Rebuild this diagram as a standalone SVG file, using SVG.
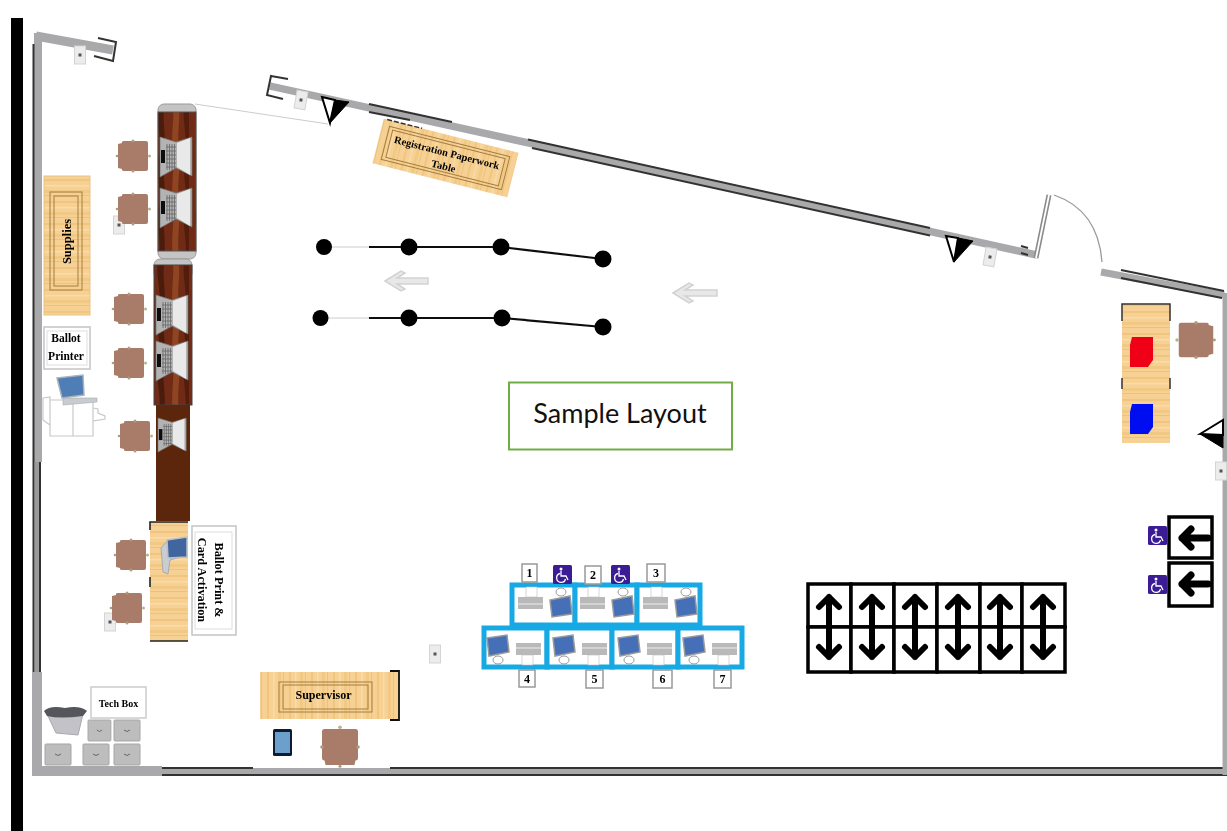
<svg xmlns="http://www.w3.org/2000/svg" xmlns:xlink="http://www.w3.org/1999/xlink" width="1227" height="831" viewBox="0 0 1227 831">
<style>
.lbl{font-family:"Liberation Serif",serif;font-weight:bold;fill:#000;text-anchor:middle}
.num{font-family:"Liberation Serif",serif;font-weight:bold;font-size:12px;fill:#000;text-anchor:middle}
.wall{fill:none;stroke:#a9a9ab;stroke-linecap:butt}
.dk{fill:none;stroke:#333;stroke-width:2}
.inner{fill:none;stroke:#a67e3e;stroke-width:1}
.lblbox{fill:#fff;stroke:#c4c4c4;stroke-width:1.500}
.numbox{fill:#fff;stroke:#999;stroke-width:1.500}
.post{fill:#000}
.rope{stroke:#111;stroke-width:2.200;fill:none}
.thin{stroke:#ccc;stroke-width:1;fill:none}
.cell{fill:#fff;stroke:#000;stroke-width:3.500}
.arr{fill:none;stroke:#000;stroke-width:6;stroke-linecap:round;stroke-linejoin:round}
.garr{fill:#e8e8e8;stroke:#d2d2d2;stroke-width:1.500}
.booth{fill:#fff;stroke:#19a9e3;stroke-width:5}
.box{fill:#bdbdbd;stroke:#a5a5a5;stroke-width:1}
</style>
<defs>
<filter id="soft" x="-2%" y="-2%" width="104%" height="104%"><feGaussianBlur stdDeviation="0.6"/></filter>
<pattern id="woodH" width="46" height="22" patternUnits="userSpaceOnUse">
<rect width="46" height="22" fill="#f6d193"/>
<rect y="3" width="46" height="2" fill="#f0c581"/><rect y="9" width="46" height="1.500" fill="#f9dcab"/><rect y="14" width="46" height="3" fill="#f1c884"/><rect y="19" width="46" height="1" fill="#edc27d"/>
</pattern>
<pattern id="woodV" width="22" height="46" patternUnits="userSpaceOnUse">
<rect width="22" height="46" fill="#f6d193"/>
<rect x="3" width="2" height="46" fill="#f0c581"/><rect x="9" width="1.500" height="46" fill="#f9dcab"/><rect x="14" width="3" height="46" fill="#f1c884"/><rect x="19" width="1" height="46" fill="#edc27d"/>
</pattern>
<pattern id="mahog" width="38" height="52" patternUnits="userSpaceOnUse">
<rect width="38" height="52" fill="#6f2c12"/>
<path d="M6 0C3 15 10 30 7 52H12C15 30 9 15 13 0Z" fill="#4a1a08"/>
<path d="M20 0C24 14 17 32 22 52H28C23 32 30 14 26 0Z" fill="#8f4420"/>
<path d="M32 0C30 20 36 34 33 52H37V0Z" fill="#521f0b"/>
</pattern>
<g id="chair">
<path d="M-15-12L-11-13V-14Q-11-15-9-15H13Q15-15 15-13V13Q15 15 13 15H-9Q-11 15-11 14V13L-15 12Z" fill="#a87c67"/>
<circle cx="0" cy="-15" r="1.500" fill="#b09a80"/><circle cx="0" cy="15" r="1.500" fill="#b09a80"/><circle cx="16.500" cy="0" r="1.500" fill="#bfb08a"/><circle cx="-16" cy="0" r="1.300" fill="#b09a80"/>
</g>
<g id="outlet"><rect x="-5.500" y="-9" width="11" height="18" fill="#ececec" stroke="#d4d4d4"/><rect x="-1.500" y="-1.500" width="3" height="3" fill="#555"/></g>
<g id="station">
<polygon points="0,0 16,5 32,0 32,39 16,31 0,40" fill="#b3b3b3" stroke="#777" stroke-width=".7"/>
<polygon points="17,6 30,1 30,38 17,30" fill="#e9e9e9"/>
<path d="M7 7V33M9.500 7V33M12 7V33M14.500 7V33M6 10H16M6 14H16M6 18H16M6 22H16M6 26H16M6 30H16" stroke="#666" stroke-width=".8" fill="none"/>
<rect x="1" y="13" width="4" height="13" fill="#111"/>
</g>
<g id="booth">
<polygon points="3,11 23,8 25,25 5,29" fill="#4570b8" stroke="#9a9a9a" stroke-width="1.500"/>
<ellipse cx="14" cy="33" rx="5" ry="4" fill="#fff" stroke="#999"/>
<rect x="32" y="16" width="25" height="12" fill="#b9b9b9"/><path d="M32 21H57" stroke="#eee"/>
<rect x="38" y="28" width="11" height="10" fill="#fff" stroke="#bbb" stroke-width=".6"/>
</g>
<g id="ada"><rect width="19" height="19" rx="1.500" fill="#3a1c94"/><circle cx="8" cy="4" r="1.500" fill="#fff"/><path d="M8 6V11H13L15 15M7 8.500A4.500 4.500 0 1 0 12.500 14" fill="none" stroke="#fff" stroke-width="1.300"/></g>
<g id="updown"><path class="arr" d="M0-30V30M-10-20L0-30L10-20M-10 20L0 30L10 20"/></g>
<g id="gbox"><rect width="26" height="21" rx="1" class="box"/><path d="M10 10q3 3 6 0" stroke="#666" fill="none"/></g>
</defs>

<rect width="1227" height="831" fill="#fff"/>
<rect x="11" y="18" width="12" height="813" fill="#000"/>

<g filter="url(#soft)">
<g id="walls">
<path class="wall" stroke-width="8" d="M38 462V33"/>
<path class="wall" stroke-width="9" d="M36 36L113 50"/>
<path class="wall" stroke-width="5" d="M37 462V672" style="stroke:#9a9a9a"/>
<path class="dk" d="M33.500 44V770M40 462V672"/>
<path class="wall" stroke-width="10" d="M37 672V771H162"/>
<path class="wall" stroke-width="7" d="M162 771.500H1227"/>
<path class="dk" d="M162 768H253M390 768H1224M162 775H1227"/>
<path class="wall" stroke-width="7.500" d="M270 86L1037 255"/>
<path class="dk" d="M369 104L452 122M369 112L410 120M528 139.500L930 228M532 148L930 235.500M1021 246L1028 248M1021 253L1028 255"/>
<path class="wall" stroke-width="7" d="M1101 272L1224 295"/>
<path class="dk" d="M1121 270L1224 291M1121 278L1222 298"/>
<path class="wall" stroke-width="5" d="M1225 293V775"/>
<path d="M1036 258L1049 195" fill="none" stroke="#8a8a8a" stroke-width="5"/>
<path d="M1036 258L1049 195" fill="none" stroke="#fff" stroke-width="1.800"/>
<path d="M1054 195Q1098 210 1102 262" fill="none" stroke="#999" stroke-width="1.300"/>
<path d="M98 38L116 42L113 61L94 56" fill="none" stroke="#333" stroke-width="2"/>
<path d="M288 79L271 76L267 95L283 99" fill="none" stroke="#333" stroke-width="2"/>
<path class="thin" d="M195 104L328 124"/>
</g>

<g id="triangles">
<g id="door-sensor-1"><polygon points="322,97 335,100 330,123" fill="#fff" stroke="#000" stroke-width="2"/><polygon points="335,100 349,102 330,123" fill="#000" stroke="#000"/></g>
<g id="door-sensor-2"><polygon points="946,236 958,238 954,262" fill="#fff" stroke="#000" stroke-width="2"/><polygon points="958,238 973,241 954,262" fill="#000" stroke="#000"/></g>
<g id="door-sensor-3"><polygon points="1200,434 1223,420 1223,435" fill="#fff" stroke="#000" stroke-width="2"/><polygon points="1200,434 1223,435 1223,448" fill="#000" stroke="#000"/></g>
</g>

<g id="outlets">
<use xlink:href="#outlet" href="#outlet" transform="translate(80,55)"/>
<use xlink:href="#outlet" href="#outlet" transform="translate(301,100) rotate(10)"/>
<use xlink:href="#outlet" href="#outlet" transform="translate(119,225)"/>
<use xlink:href="#outlet" href="#outlet" transform="translate(990,257) rotate(10)"/>
<use xlink:href="#outlet" href="#outlet" transform="translate(110,622)"/>
<use xlink:href="#outlet" href="#outlet" transform="translate(435,654)"/>
<use xlink:href="#outlet" href="#outlet" transform="translate(1221,471)"/>
</g>

<g id="supplies">
<rect x="44" y="176" width="46" height="139" fill="url(#woodH)" stroke="#e8c488"/>
<rect x="50" y="192" width="32" height="98" class="inner"/><rect x="54" y="196" width="24" height="90" class="inner"/>
<text class="lbl" font-size="12.500" transform="translate(71,241.500) rotate(-90)">Supplies</text>
</g>

<g id="ballot-printer-label">
<rect x="44" y="327" width="46" height="42" class="lblbox"/><rect x="47" y="331" width="40" height="34" fill="none" stroke="#ddd"/>
<text class="lbl" font-size="11.500" x="66" y="342">Ballot</text><text class="lbl" font-size="11.500" x="66" y="360">Printer</text>
</g>

<g id="ballot-printer">
<path d="M50 400H93V436H50ZM73 400V436M43 398L50 397V425L43 420ZM93 408L98 409V413L105 416V419L93 421Z" fill="#fff" stroke="#c8c8c8" stroke-width="1.200"/>
<polygon points="63,398 97,398 97,402 63,405" fill="#c8ccd0" stroke="#aaa" stroke-width=".6"/>
<polygon points="57,378 83,375 84,395 62,398" fill="#4f7db5" stroke="#aab2ba" stroke-width="1.500"/>
</g>

<g id="chairs">
<use xlink:href="#chair" href="#chair" transform="translate(133,156)"/>
<use xlink:href="#chair" href="#chair" transform="translate(133,209)"/>
<use xlink:href="#chair" href="#chair" transform="translate(129,309)"/>
<use xlink:href="#chair" href="#chair" transform="translate(129,363)"/>
<use xlink:href="#chair" href="#chair" transform="translate(135,436)"/>
<use xlink:href="#chair" href="#chair" transform="translate(131,555)"/>
<use xlink:href="#chair" href="#chair" transform="translate(127,608)"/>
<use xlink:href="#chair" href="#chair" transform="translate(1196,340) scale(-1.150,1.150)"/>
<use xlink:href="#chair" href="#chair" transform="translate(340,747) rotate(-90) scale(1.200)"/>
</g>

<g id="counter-1">
<rect x="158" y="104" width="38" height="155" rx="6" fill="#c4c4c4" stroke="#999"/>
<rect x="158" y="112" width="38" height="139" fill="url(#mahog)" stroke="#555"/>
<use xlink:href="#station" href="#station" transform="translate(160,137)"/>
<use xlink:href="#station" href="#station" transform="translate(160,188)"/>
</g>

<g id="counter-2">
<rect x="154" y="259" width="38" height="20" rx="6" fill="#c4c4c4" stroke="#999"/>
<rect x="154" y="265" width="38" height="140" fill="url(#mahog)" stroke="#444"/>
<use xlink:href="#station" href="#station" transform="translate(156,295)"/>
<use xlink:href="#station" href="#station" transform="translate(156,341)"/>
</g>

<g id="counter-3">
<rect x="156" y="405" width="34" height="116" fill="#5c2608"/>
<use xlink:href="#station" href="#station" transform="translate(158,418) scale(.88,.85)"/>
</g>

<g id="activation-desk">
<rect x="150" y="522" width="38" height="119" fill="url(#woodH)"/>
<path d="M150 530V522H188M150 577V587M150 641H188" fill="none" stroke="#222" stroke-width="1.600"/>
<path d="M168 540L161 548L163 572L168 574L170 560L180 557Z" fill="#c9cdd2" stroke="#aaa"/>
<polygon points="167,540 187,537 187,557 168,558" fill="#3f659f" stroke="#b8c0c8" stroke-width="1.500"/>
</g>

<g id="activation-label">
<rect x="192" y="526" width="44" height="109" class="lblbox"/><rect x="195" y="532" width="37" height="97" fill="none" stroke="#ddd"/>
<text class="lbl" font-size="12.300" transform="translate(215,580) rotate(90)">Ballot Print &amp;</text>
<text class="lbl" font-size="12.300" transform="translate(198,580) rotate(90)">Card Activation</text>
</g>

<g id="tech-box">
<rect x="91" y="687" width="55" height="31" fill="#fff" stroke="#ccc" stroke-width="1.500"/>
<text class="lbl" font-size="10" x="118.500" y="707">Tech Box</text>
<polygon points="47,714 83,714 78,735 56,733" fill="#c2c2c8" stroke="#a8a8ae"/>
<path d="M44 711Q50 705 65 708Q80 705 87 711L83 716Q60 719 47 716Z" fill="#55555b"/>
<use xlink:href="#gbox" href="#gbox" transform="translate(88,720) scale(.88,1)"/>
<use xlink:href="#gbox" href="#gbox" transform="translate(114,720)"/>
<use xlink:href="#gbox" href="#gbox" transform="translate(45,744)"/>
<use xlink:href="#gbox" href="#gbox" transform="translate(83,744)"/>
<use xlink:href="#gbox" href="#gbox" transform="translate(114,744)"/>
</g>

<g id="supervisor">
<rect x="260" y="672" width="139" height="47" fill="url(#woodV)"/>
<path d="M390 671H399V720H390" fill="none" stroke="#111" stroke-width="1.800"/>
<rect x="279" y="682" width="93" height="30" class="inner"/><rect x="283" y="685" width="85" height="24" class="inner"/>
<text class="lbl" font-size="12" x="323.500" y="699">Supervisor</text>
</g>

<g id="tablet">
<rect x="273" y="729" width="19" height="27" rx="1.500" fill="#111d33"/><rect x="275" y="732" width="15" height="21" fill="#6c9fcb"/>
</g>

<g id="registration-table" transform="translate(445.500,158) rotate(14.200)">
<rect x="-69.500" y="-23" width="139" height="46" fill="url(#woodV)"/>
<rect x="-62" y="-17" width="124" height="34" class="inner"/><rect x="-58" y="-14" width="116" height="28" class="inner"/>
<path d="M-66-23H-30" stroke="#333" stroke-width="1.500" stroke-dasharray="5 2"/>
<text class="lbl" font-size="10.500" y="-2">Registration Paperwork</text>
<text class="lbl" font-size="10.500" y="12">Table</text>
</g>

<g id="queue-1">
<path class="thin" d="M332 247H369"/><path class="rope" d="M369 247H501L603 259"/>
<circle class="post" cx="324" cy="247" r="8"/><circle class="post" cx="409" cy="247" r="8.500"/><circle class="post" cx="501" cy="247" r="8.500"/><circle class="post" cx="603" cy="259" r="8.500"/>
</g>
<g id="queue-2">
<path class="thin" d="M328 318H369"/><path class="rope" d="M369 318H502L603 327"/>
<circle class="post" cx="320.500" cy="318" r="8"/><circle class="post" cx="409" cy="318" r="8.500"/><circle class="post" cx="502" cy="318" r="8.500"/><circle class="post" cx="603" cy="327" r="8.500"/>
</g>

<g id="flow-arrows">
<polygon class="garr" points="385,281 401,271 405,273 397,278 428,278 428,284 397,284 405,289 401,291"/>
<polygon class="garr" points="673,293 689,283 693,285 685,290 717,290 717,296 685,296 693,301 689,303"/>
</g>

<g id="booths">
<g id="booth-frame-top">
<rect x="512" y="585" width="63" height="40" class="booth"/><rect x="575" y="585" width="62" height="40" class="booth"/><rect x="637" y="585" width="63" height="40" class="booth"/>
<use xlink:href="#booth" href="#booth" transform="translate(575,625) rotate(180)"/>
<use xlink:href="#booth" href="#booth" transform="translate(637,625) rotate(180)"/>
<use xlink:href="#booth" href="#booth" transform="translate(700,625) rotate(180)"/>
</g>
<g id="booth-frame-bottom">
<rect x="484" y="628" width="63" height="39" class="booth"/><rect x="547" y="628" width="65" height="39" class="booth"/><rect x="612" y="628" width="66" height="39" class="booth"/><rect x="678" y="628" width="64" height="39" class="booth"/>
<use xlink:href="#booth" href="#booth" transform="translate(484,627)"/>
<use xlink:href="#booth" href="#booth" transform="translate(550,627)"/>
<use xlink:href="#booth" href="#booth" transform="translate(615,627)"/>
<use xlink:href="#booth" href="#booth" transform="translate(680,627)"/>
</g>
<g id="booth-numbers">
<rect x="522" y="564" width="15" height="18" class="numbox"/><text class="num" x="529.500" y="577">1</text>
<rect x="585" y="566" width="16" height="18" class="numbox"/><text class="num" x="593" y="579">2</text>
<rect x="647" y="564" width="18" height="18" class="numbox"/><text class="num" x="656" y="577">3</text>
<rect x="519" y="670" width="16" height="17" class="numbox"/><text class="num" x="527" y="683">4</text>
<rect x="586" y="670" width="17" height="18" class="numbox"/><text class="num" x="594.500" y="683">5</text>
<rect x="653" y="670" width="19" height="18" class="numbox"/><text class="num" x="662.500" y="683">6</text>
<rect x="714" y="670" width="17" height="18" class="numbox"/><text class="num" x="722.500" y="683">7</text>
</g>
<use xlink:href="#ada" href="#ada" transform="translate(553,565)"/>
<use xlink:href="#ada" href="#ada" transform="translate(611,565)"/>
</g>

<g id="parking-grid">
<rect x="808" y="584" width="43" height="43" class="cell"/><rect x="851" y="584" width="43" height="43" class="cell"/><rect x="894" y="584" width="43" height="43" class="cell"/><rect x="937" y="584" width="43" height="43" class="cell"/><rect x="980" y="584" width="42" height="43" class="cell"/><rect x="1022" y="584" width="43" height="43" class="cell"/>
<rect x="808" y="627" width="43" height="45" class="cell"/><rect x="851" y="627" width="43" height="45" class="cell"/><rect x="894" y="627" width="43" height="45" class="cell"/><rect x="937" y="627" width="43" height="45" class="cell"/><rect x="980" y="627" width="42" height="45" class="cell"/><rect x="1022" y="627" width="43" height="45" class="cell"/>
<use xlink:href="#updown" href="#updown" transform="translate(829,627)"/>
<use xlink:href="#updown" href="#updown" transform="translate(872,627)"/>
<use xlink:href="#updown" href="#updown" transform="translate(915,627)"/>
<use xlink:href="#updown" href="#updown" transform="translate(958,627)"/>
<use xlink:href="#updown" href="#updown" transform="translate(1000,627)"/>
<use xlink:href="#updown" href="#updown" transform="translate(1043,627)"/>
</g>

<g id="check-in-table">
<rect x="1122" y="304" width="48" height="139" fill="url(#woodH)"/>
<path d="M1122 321V304H1170V321M1122 378V389M1170 378V389" fill="none" stroke="#333" stroke-width="1.500"/>
<path d="M1132 337H1153V360L1148 367H1130V345Z" fill="#f00014"/>
<path d="M1132 404H1153V427L1148 434H1130V412Z" fill="#0010f0"/>
</g>

<g id="exit-arrows">
<rect x="1169" y="517" width="43" height="41" class="cell"/><rect x="1169" y="563" width="43" height="43" class="cell"/>
<path class="arr" style="stroke-width:7" d="M1208 538H1182M1191 529L1182 538L1191 547"/>
<path class="arr" style="stroke-width:7" d="M1208 584H1182M1191 575L1182 584L1191 593"/>
<use xlink:href="#ada" href="#ada" transform="translate(1148,526)"/>
<use xlink:href="#ada" href="#ada" transform="translate(1148,575)"/>
</g>
</g>

<g id="sample-layout">
<rect x="509" y="382.500" width="223" height="67" fill="#fff" stroke="#70ad47" stroke-width="2"/>
<text x="620" y="423" font-family="Lato,sans-serif" font-size="27" fill="#111" text-anchor="middle">Sample Layout</text>
</g>
</svg>
